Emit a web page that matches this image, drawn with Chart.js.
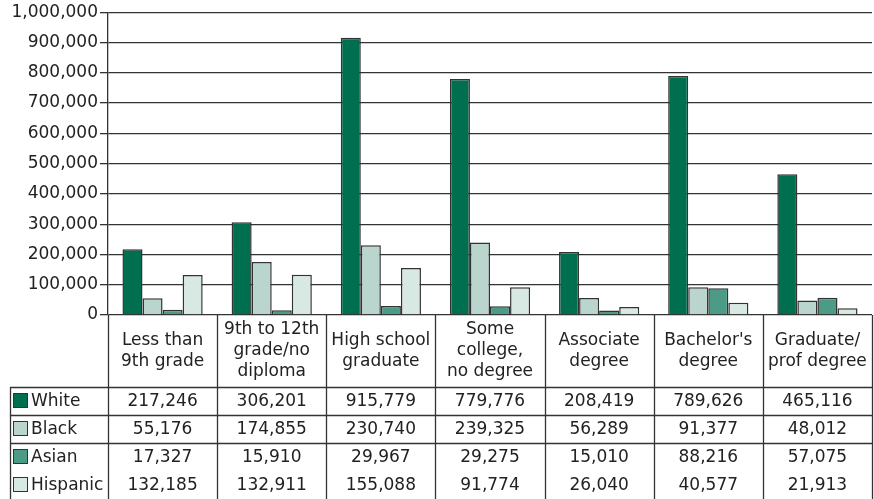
<!DOCTYPE html>
<html>
<head>
<meta charset="utf-8">
<script src="https://cdn.jsdelivr.net/npm/chart.js@4"></script>
<style>
  html, body { margin: 0; padding: 0; background: #fff; }
  #wrap { width: 874px; height: 499px; position: relative; }
</style>
</head>
<body>
<div id="wrap"><canvas id="eduChart"></canvas></div>
<script>
// categories (multi-line header labels)
const CATEGORIES = [
    ["Less than", "9th grade"],
    ["9th to 12th", "grade/no", "diploma"],
    ["High school", "graduate"],
    ["Some", "college,", "no degree"],
    ["Associate", "degree"],
    ["Bachelor's", "degree"],
    ["Graduate/", "prof degree"]
];

// series values
const WHITE    = [217246, 306201, 915779, 779776, 208419, 789626, 465116];
const BLACK    = [55176, 174855, 230740, 239325, 56289, 91377, 48012];
const ASIAN    = [17327, 15910, 29967, 29275, 15010, 88216, 57075];
const HISPANIC = [132185, 132911, 155088, 91774, 26040, 40577, 21913];

const SERIES_NAMES = ["White", "Black", "Asian", "Hispanic"];
const SERIES_COLORS = ["#006f50", "#b9d5cd", "#4b9b87", "#d8e8e3"];

const FONT = "DejaVu Sans";
const LINE = "#333333";

//Draws the data table under the plot, lined up with the x scale
const tablePlugin = {
    id: 'dataTable',
    afterDraw(chart) {
        const ctx = chart.ctx;
        const x = chart.scales.x;
        const area = chart.chartArea;
        const n = CATEGORIES.length;
        const colW = (x.right - x.left) / n;
        const bottom = chart.height;
        const headTop = area.bottom;
        const headBottom = headTop + 72;
        const rowH = 28;
        const tableLeft = 10;

        ctx.save();
        ctx.strokeStyle = LINE;
        ctx.lineWidth = 1.3;

        // vertical column lines
        for (let k = 0; k <= n; k++) {
            const px = Math.round(x.left + k * colW) + 0.5;
            ctx.beginPath();
            ctx.moveTo(px, headTop);
            ctx.lineTo(px, bottom);
            ctx.stroke();
        }
        ctx.beginPath();
        ctx.moveTo(tableLeft + 0.5, headBottom);
        ctx.lineTo(tableLeft + 0.5, bottom);
        ctx.stroke();

        // horizontal row lines
        [headBottom, headBottom + rowH, headBottom + 2 * rowH].forEach(py => {
            ctx.beginPath();
            ctx.moveTo(tableLeft, Math.round(py) + 0.5);
            ctx.lineTo(x.right, Math.round(py) + 0.5);
            ctx.stroke();
        });

        ctx.fillStyle = "#222";
        ctx.font = "17px '" + FONT + "'";
        ctx.textAlign = "center";
        ctx.textBaseline = "middle";

        // header labels
        CATEGORIES.forEach((lines, i) => {
            const cx = x.getPixelForValue(i);
            const cy = (headTop + headBottom) / 2;
            const lh = 21;
            lines.forEach((t, j) => {
                ctx.fillText(t, cx, cy + (j - (lines.length - 1) / 2) * lh);
            });
        });

        // rows
        const allData = [WHITE, BLACK, ASIAN, HISPANIC];
        allData.forEach((vals, r) => {
            const cy = headBottom + rowH * r + rowH / 2;
            // legend swatch
            ctx.fillStyle = SERIES_COLORS[r];
            ctx.fillRect(13.5, cy - 7.5, 14, 14);
            ctx.strokeStyle = LINE;
            ctx.lineWidth = 1;
            ctx.strokeRect(13.5, cy - 7.5, 14, 14);
            ctx.fillStyle = "#222";
            ctx.textAlign = "left";
            ctx.fillText(SERIES_NAMES[r], 31, cy + 1);
            ctx.textAlign = "center";
            vals.forEach((v, i) => {
                ctx.fillText(v.toLocaleString("en-US"), x.getPixelForValue(i), cy + 1);
            });
        });
        ctx.restore();
    }
};

document.addEventListener("DOMContentLoaded", function(){
    const ctx = document.getElementById("eduChart").getContext("2d");

    new Chart(ctx, {
        type: 'bar',
        data: {
            labels: CATEGORIES,
            datasets: [WHITE, BLACK, ASIAN, HISPANIC].map((vals, i) => ({
                label: SERIES_NAMES[i],
                data: vals,
                backgroundColor: SERIES_COLORS[i],
                borderColor: LINE,
                borderWidth: 1.5,
                borderSkipped: 'bottom',
                barPercentage: 1.0,
                categoryPercentage: 0.735
            }))
        },
        options: {
            responsive: true,
            maintainAspectRatio: false,
            animation: false,
            layout: { padding: { top: 12, right: 2, bottom: 184, left: 0 } },
            plugins: {
                legend: { display: false },
                tooltip: { enabled: false }
            },
            scales: {
                x: {
                    display: false,
                    grid: { display: false }
                },
                y: {
                    min: 0,
                    max: 1000000,
                    afterFit(scale) { scale.width = 108; },
                    ticks: {
                        stepSize: 100000,
                        padding: 2,
                        color: "#222",
                        font: { family: FONT, size: 17 },
                        callback: v => v.toLocaleString("en-US")
                    },
                    grid: {
                        color: LINE,
                        lineWidth: 1.3,
                        tickLength: 8,
                        drawTicks: true
                    },
                    border: { color: LINE, width: 1.3 }
                }
            }
        },
        plugins: [tablePlugin]
    });
});
</script>
</body>
</html>
